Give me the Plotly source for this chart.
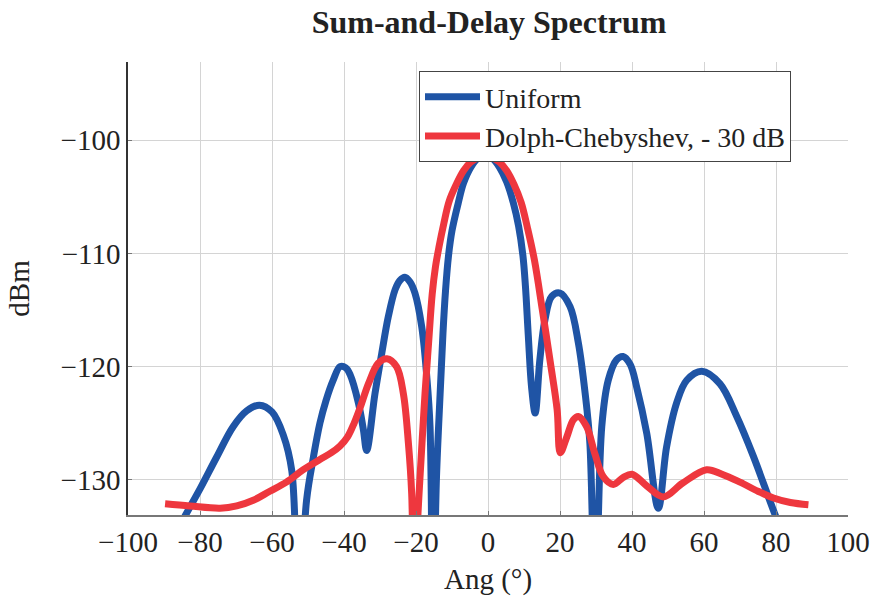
import plotly.graph_objects as go

# Uniform (blue) pattern
uni_x = [-92, -88, -84, -80, -75.4, -70.8, -67, -63.5, -60, -56.9, -54.5, -52.6, -50.4, -48.5, -46.7, -45,
         -43, -41.1, -39.5, -38.3, -36, -34.6, -33.7, -31.4, -29.5, -27.7, -25.8, -24.5, -23.1, -21.7, -20.3,
         -18.4, -17, -16.1, -15.3, -14.3, -13.3, -12.5, -11.8, -11.0, -10.0, -8.3, -6.8, -4.8, -2.8, -0.8,
         1.2, 3.2, 5.2, 7.0, 8.5, 9.7, 10.4, 11.2, 12.1, 13.1, 14.4, 15.8, 17.7, 20, 22.8, 25.1, 27, 28.3,
         29.8, 31.6, 33.4, 35.7, 37.5, 39.5, 41.3, 44.1, 47.3, 49.6, 52.4, 55.2, 59.4, 64.4, 69.1, 73.7, 79.3,
         84, 90]
uni_y = [-138, -135.5, -133.1, -130.8, -128.0, -125.3, -123.9, -123.4, -124.0, -126.0, -129.2, -142, -131.8,
         -128.0, -125.0, -123.0, -121.2, -120.0, -120.1, -120.7, -123.2, -125.6, -127.4, -122.4, -118.8, -115.6,
         -113.2, -112.4, -112.1, -112.5, -113.5, -116.5, -120.9, -125.3, -142, -129.7, -122.4, -117.0, -113.3,
         -110.3, -108.0, -105.6, -103.8, -102.4, -101.6, -101.3, -101.6, -102.4, -103.7, -105.5, -107.6,
         -110.2, -112.9, -117.3, -121.8, -124.1, -119.4, -115.9, -113.8, -113.5, -114.7, -117.9, -122.4,
         -126.8, -142, -125.3, -121.2, -119.4, -119.1, -119.8, -121.8, -125.9, -132.5, -127.1, -123.2, -121.2,
         -120.4, -121.5, -124.4, -127.9, -132.7, -136.5, -141]

# Dolph-Chebyshev -30 dB (red) pattern
dc_x = [-89.7, -82.8, -74.4, -69.8, -65.2, -60.6, -56, -51.3, -46.7, -43.5, -41.1, -39, -37.2, -35.5, -33.2,
        -30.5, -28.1, -25.4, -23.5, -22.1, -21.2, -20.5, -19.6, -18.6, -17.5, -16.5, -15.5, -14.6, -13.6,
        -12.3, -10.8, -8.8, -6.8, -4.8, -2.8, -0.8, 1.2, 3.2, 5.2, 7.2, 9.2, 11.0, 12.9, 15.1, 17.3, 19.2,
        20.1, 21.9, 23.7, 25.1, 27.4, 29.7, 32, 34.8, 37.5, 40, 44, 48.7, 54, 60.7, 65, 70, 75, 79.3, 84, 89]
dc_y = [-132.1, -132.3, -132.5, -132.3, -131.8, -131.0, -130.2, -129.1, -128.2, -127.6, -127.0, -126.2, -125.0,
        -123.6, -121.5, -119.7, -119.3, -120.0, -122.4, -126.8, -131.2, -142, -134.0, -128.2, -122.4, -117.9,
        -113.6, -111.2, -109.4, -107.4, -105.4, -103.9, -102.7, -101.95, -101.55, -101.4, -101.55, -101.95,
        -102.7, -103.9, -105.5, -107.8, -110.6, -115.0, -119.6, -123.8, -127.6, -126.2, -124.7, -124.4, -125.3,
        -127.7, -129.7, -130.4, -129.8, -129.5, -130.5, -131.5, -130.3, -129.1, -129.5, -130.2, -131.0, -131.6,
        -132.0, -132.2]

x_ticks = [-100, -80, -60, -40, -20, 0, 20, 40, 60, 80, 100]
y_ticks = [-130, -120, -110, -100]

BLUE = "rgb(31,84,165)"
RED = "rgb(238,55,62)"
FONT = "Liberation Serif"
FS = 29


def lab(v):
    return ("\u2212" + str(-v)) if v < 0 else str(v)


fig = go.Figure()
fig.add_trace(go.Scatter(x=uni_x, y=uni_y, mode="lines", name="Uniform",
                         line=dict(color=BLUE, width=7, shape="spline", smoothing=1.0)))
fig.add_trace(go.Scatter(x=dc_x, y=dc_y, mode="lines", name="Dolph-Chebyshev, - 30 dB",
                         line=dict(color=RED, width=7, shape="spline", smoothing=1.0)))

fig.update_layout(
    width=874, height=599,
    margin=dict(l=128, r=26, t=62, b=84),
    paper_bgcolor="white", plot_bgcolor="white",
    font=dict(family=FONT, size=FS, color="#222"),
    title=dict(text="<b>Sum-and-Delay Spectrum</b>", x=489 / 874, xanchor="center",
               y=1 - 22 / 599, yanchor="middle", font=dict(family=FONT, size=32, color="#222")),
    legend=dict(x=(419 - 128) / 720, y=(515 - 71) / 453, xanchor="left", yanchor="top",
                bgcolor="white", bordercolor="#444", borderwidth=1, itemwidth=55,
                font=dict(family=FONT, size=28, color="#222"), tracegroupgap=0),
    showlegend=True,
)
fig.update_xaxes(range=[-100, 100], tickvals=x_ticks, ticktext=[lab(v) for v in x_ticks],
                 showgrid=True, gridcolor="#d4d4d4", gridwidth=1.2, automargin=False,
                 showline=True, linecolor="#777", linewidth=1.5, mirror=False,
                 ticks="inside", ticklen=4, tickcolor="#777", zeroline=False,
                 title=dict(text="Ang (°)", standoff=12, font=dict(family=FONT, size=FS)))
fig.update_yaxes(range=[-133.1, -93.1], tickvals=y_ticks, ticktext=[lab(v) for v in y_ticks],
                 showgrid=True, gridcolor="#d4d4d4", gridwidth=1.2, automargin=False,
                 showline=True, linecolor="#333", linewidth=1.5, mirror=False,
                 ticks="inside", ticklen=4, tickcolor="#777", zeroline=False,
                 title=dict(text="dBm", standoff=22, font=dict(family=FONT, size=FS)))

fig.write_html("out.html")
